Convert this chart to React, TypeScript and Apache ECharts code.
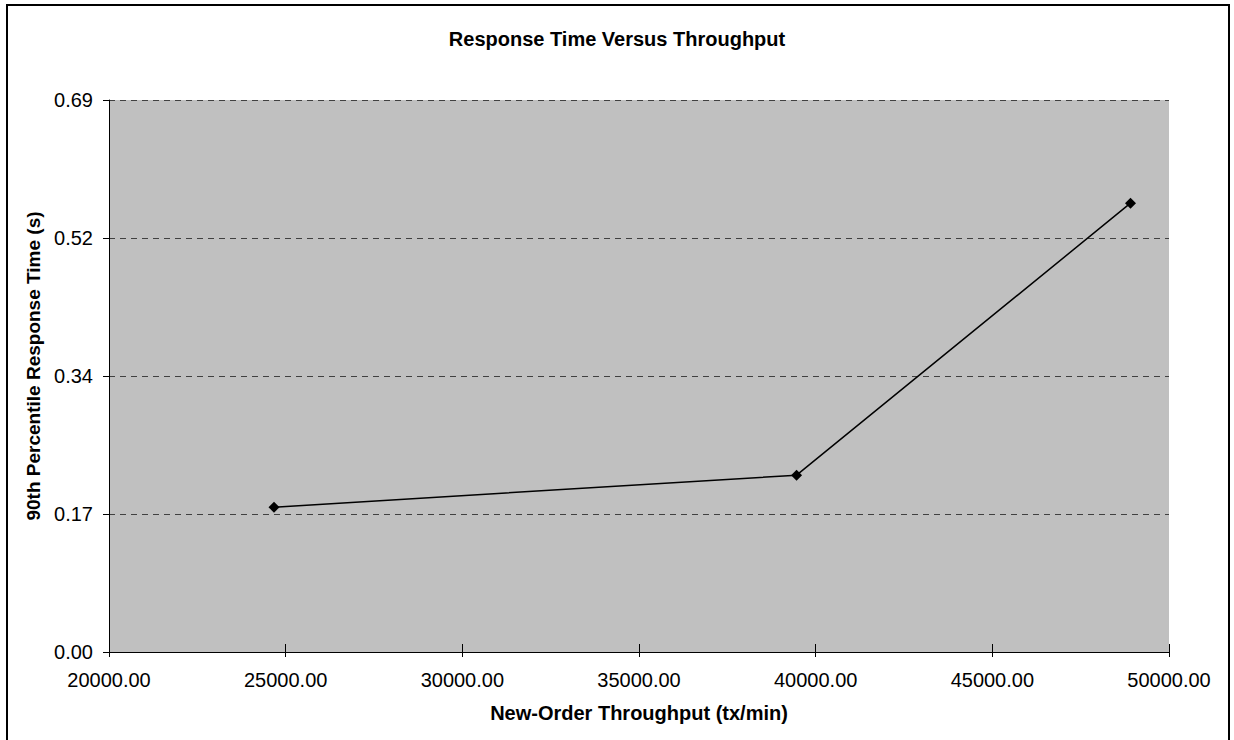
import React, { useEffect, useRef } from "react";
import * as echarts from "echarts";

const throughput = [24670, 39460, 48910];
const responseTime = [0.181, 0.221, 0.561];
const yTickLabels = ["0.00", "0.17", "0.34", "0.52", "0.69"];
const xMin = 20000;
const xMax = 50000;
const xStep = 5000;
const yMax = 0.69;
const yStep = 0.1725;

const FONT = "'Liberation Sans', Arial, sans-serif";

export default function App() {
  const ref = useRef<HTMLDivElement>(null);
  useEffect(() => {
    if (!ref.current) return;
    const chart = echarts.init(ref.current, null, { renderer: "svg" });
    const data = throughput.map((x, i) => [x, responseTime[i]]);
    chart.setOption({
      animation: false,
      backgroundColor: "#ffffff",
      title: {
        text: "Response Time Versus Throughput",
        left: "center",
        top: 24,
        textStyle: { fontFamily: FONT, fontSize: 20, fontWeight: "bold", color: "#000" },
      },
      graphic: [
        {
          type: "rect",
          shape: { x: 7, y: 5, width: 1222, height: 760 },
          style: { fill: "none", stroke: "#000", lineWidth: 2 },
          silent: true,
          z: 100,
        },
      ],
      grid: {
        left: 109,
        right: 65,
        top: 100,
        bottom: 88,
        show: true,
        backgroundColor: "#C0C0C0",
        borderWidth: 0,
      },
      xAxis: [
        {
          type: "value",
          min: xMin,
          max: xMax,
          interval: xStep,
          position: "bottom",
          name: "New-Order Throughput (tx/min)",
          nameLocation: "middle",
          nameGap: 51,
          nameTextStyle: { fontFamily: FONT, fontSize: 20, fontWeight: "bold", color: "#000" },
          axisLine: { show: true, onZero: false, lineStyle: { color: "#000", width: 1 } },
          axisTick: { show: true, inside: false, length: 5, lineStyle: { color: "#000" } },
          axisLabel: {
            margin: 18,
            fontFamily: FONT,
            fontSize: 20,
            color: "#000",
            formatter: (v: number) => v.toFixed(2),
          },
          splitLine: { show: false },
        },
        {
          type: "value",
          min: xMin,
          max: xMax,
          interval: xStep,
          position: "bottom",
          offset: 0,
          axisLine: { show: false },
          axisTick: { show: true, inside: true, length: 8, lineStyle: { color: "#000" } },
          axisLabel: { show: false },
          splitLine: { show: false },
        },
      ],
      yAxis: {
        type: "value",
        min: 0,
        max: yMax,
        interval: yStep,
        name: "90th Percentile Response Time (s)",
        nameLocation: "middle",
        nameGap: 65,
        nameTextStyle: {
          fontFamily: FONT,
          fontSize: 19,
          fontWeight: "bold",
          color: "#000",
          padding: [0, 0, 0, 20],
        },
        axisLine: { show: true, onZero: false, lineStyle: { color: "#000", width: 1 } },
        axisTick: { show: true, inside: false, length: 6, lineStyle: { color: "#000" } },
        axisLabel: {
          margin: 16,
          fontFamily: FONT,
          fontSize: 20,
          color: "#000",
          formatter: (_v: number, i: number) => yTickLabels[i] ?? "",
        },
        splitLine: {
          show: true,
          lineStyle: { color: "#404040", type: [6, 5], width: 1 },
        },
      },
      series: [
        {
          type: "line",
          data,
          symbol: "diamond",
          symbolSize: 11,
          lineStyle: { color: "#000", width: 1.5 },
          itemStyle: { color: "#000" },
          z: 5,
        },
      ],
    });
    return () => chart.dispose();
  }, []);
  return (
    <div
      ref={ref}
      style={{ position: "fixed", left: 0, top: 0, width: 1234, height: 740 }}
    />
  );
}
